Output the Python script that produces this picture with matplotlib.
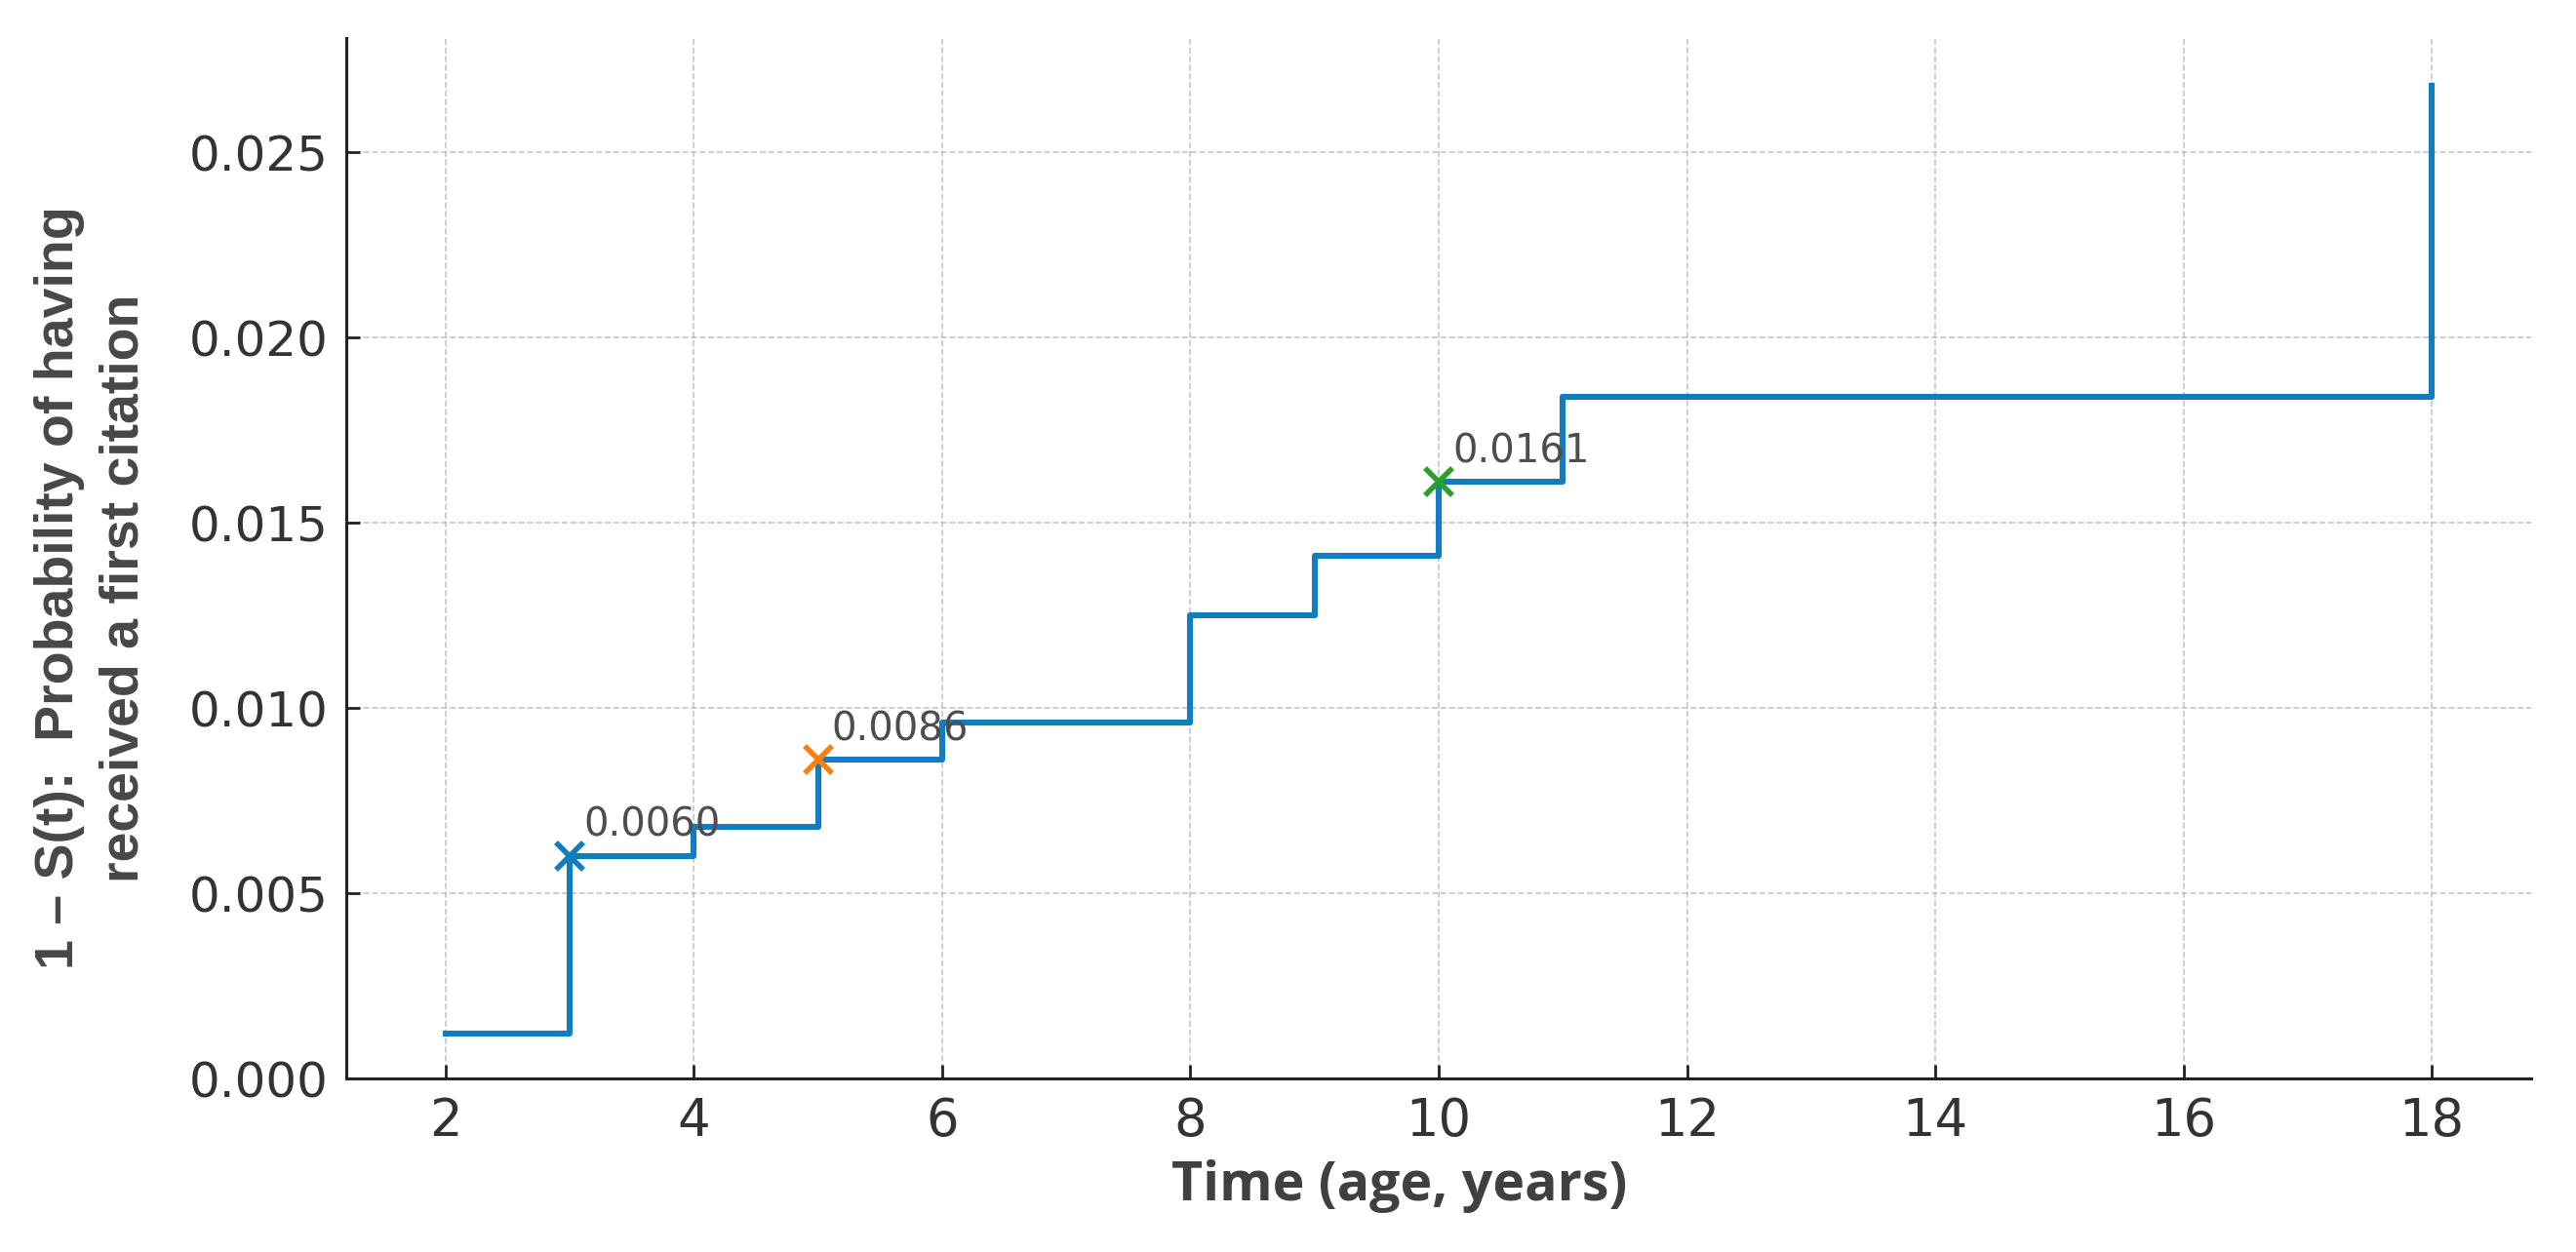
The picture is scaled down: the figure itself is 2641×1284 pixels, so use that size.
import matplotlib
matplotlib.use("Agg")
import matplotlib.pyplot as plt

# ---- data ----
times = [2, 3, 4, 5, 6, 8, 9, 10, 11, 18]
cum_prob = [0.0012, 0.0060, 0.0068, 0.0086, 0.0096, 0.0125, 0.0141, 0.0161, 0.0184, 0.0268]
mark_times = [3, 5, 10]
mark_values = [0.0060, 0.0086, 0.0161]
mark_labels = ["0.0060", "0.0086", "0.0161"]
mark_colors = ["#0f7dc0", "#ff7f0e", "#2ca02c"]
x_ticks = [2, 4, 6, 8, 10, 12, 14, 16, 18]
y_ticks = [0.000, 0.005, 0.010, 0.015, 0.020, 0.025]

xlabel_text = "Time (age, years)"
ylabel_text = "1 – S(t):  Probability of having\nreceived a first citation"

plt.rcParams['font.family'] = ['DejaVu Sans']

fig = plt.figure(figsize=(13.205, 6.42), dpi=200)
ax = fig.add_axes([0.1344, 0.1386, 0.8482, 0.831])

line_color = "#0f7dc0"
ax.step(times, cum_prob, where="post", color=line_color, linewidth=2.2, zorder=3)

for t, v, lab, c in zip(mark_times, mark_values, mark_labels, mark_colors):
    ax.plot([t], [v], marker="x", color=c, markersize=10, markeredgewidth=2.0,
            linestyle="none", zorder=4)
    ax.annotate(lab, (t, v), xytext=(5, 4), textcoords="offset points",
                fontsize=14.5, color="#4d4d4d", ha="left", va="bottom", zorder=5)

ax.set_ylim(0, None)
ax.set_xticks(x_ticks)
ax.set_yticks(y_ticks)
ax.yaxis.set_major_formatter(matplotlib.ticker.FormatStrFormatter("%.3f"))

ax.grid(True, linestyle="--", linewidth=0.6, color="#b8b8b8", alpha=0.8, zorder=0)
ax.set_axisbelow(True)

for s in ["top", "right"]:
    ax.spines[s].set_visible(False)
for s in ["left", "bottom"]:
    ax.spines[s].set_linewidth(1.1)
    ax.spines[s].set_color("#222222")

ax.tick_params(axis="both", direction="in", length=5, width=1.0, color="#222222",
               pad=6.5, labelcolor="#333333")
ax.tick_params(axis="y", labelsize=18)
ax.tick_params(axis="x", labelsize=19)

ax.set_xlabel(xlabel_text, fontsize=20, fontweight="bold", color="#404040",
              family=["Open Sans", "DejaVu Sans"])
ax.xaxis.set_label_coords(0.482, -0.078)

ax.set_ylabel(ylabel_text, fontsize=20, fontweight="bold", color="#474747",
              family=["Liberation Sans", "DejaVu Sans"], linespacing=1.35)
ax.yaxis.set_label_coords(-0.090, 0.4715)

fig.savefig("out.png", dpi=200)
